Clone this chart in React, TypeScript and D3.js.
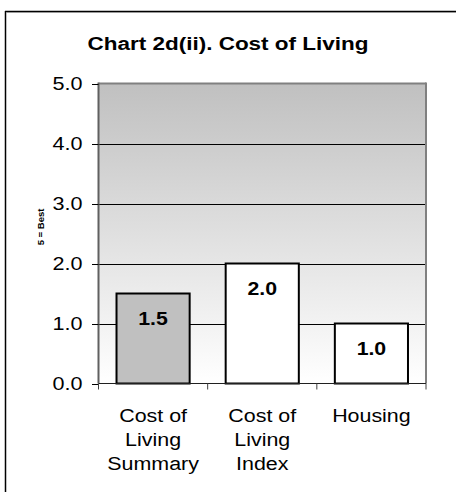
import React from "react";
import * as d3 from "d3";

const categories = [["Cost of", "Living", "Summary"], ["Cost of", "Living", "Index"], ["Housing"]];
const values = [1.5, 2.0, 1.0];
const barFills = ["#c0c0c0", "#ffffff", "#ffffff"];
const yTicks = [0, 1, 2, 3, 4, 5];
const title = "Chart 2d(ii). Cost of Living";
const yLabel = "5 = Best";

type TProps = { x: number; y: number; sx?: number; size: number; bold?: boolean; anchor?: string; children: React.ReactNode };
function T({ x, y, sx = 1.2, size, bold, anchor = "middle", children }: TProps) {
  return (
    <text transform={`translate(${x},${y}) scale(${sx},1)`} textAnchor={anchor} fontSize={size} fontWeight={bold ? "bold" : "normal"} fill="#000">
      {children}
    </text>
  );
}

export default function App() {
  const W = 456, H = 492;
  const left = 98.5, right = 426, top = 83.5, bottom = 383.5;
  const y = d3.scaleLinear().domain([0, 5]).range([bottom, top]);
  const x = d3.scaleBand<number>().domain(d3.range(categories.length)).range([left, right]).paddingInner(0.33).paddingOuter(0.165);
  const band = (right - left) / categories.length;
  const font = "Liberation Sans, Arial, sans-serif";
  return (
    <svg width={W} height={H} style={{ position: "absolute", left: 0, top: 0 }} fontFamily={font}>
      <defs>
        <linearGradient id="bg" x1="0" y1="0" x2="0" y2="1">
          <stop offset="0" stopColor="#c0c0c0" />
          <stop offset="1" stopColor="#ffffff" />
        </linearGradient>
      </defs>
      <rect x={0} y={0} width={W} height={H} fill="#fff" />
      <line x1={5.5} y1={11} x2={5.5} y2={H} stroke="#000" strokeWidth={1.5} />
      <line x1={5} y1={11.5} x2={W} y2={11.5} stroke="#000" strokeWidth={1.5} />
      <line x1={6.5} y1={12.5} x2={W} y2={12.5} stroke="#999" strokeWidth={1} />
      <T x={228} y={50} size={18} sx={1.25} bold>{title}</T>
      <rect x={left} y={top} width={right - left} height={bottom - top} fill="url(#bg)" />
      {yTicks.filter(t => t > 0 && t < 5).map(t => (
        <line key={t} x1={left} x2={right} y1={Math.round(y(t)) + 0.5} y2={Math.round(y(t)) + 0.5} stroke="#000" strokeWidth={1} />
      ))}
      <line x1={left} x2={right} y1={top} y2={top} stroke="#808080" strokeWidth={2} />
      <line x1={right} x2={right} y1={top - 1} y2={bottom} stroke="#808080" strokeWidth={2} />
      {values.map((v, i) => (
        <g key={i}>
          <rect x={x(i)!} y={y(v)} width={x.bandwidth()} height={bottom - y(v)} fill={barFills[i]} stroke="#000" strokeWidth={2} />
          <T x={x(i)! + x.bandwidth() / 2} y={y(v) + 31.5} size={19} sx={1.12} bold>{v.toFixed(1)}</T>
        </g>
      ))}
      <line x1={left} x2={left} y1={top - 1} y2={bottom} stroke="#606060" strokeWidth={2} />
      <line x1={left} x2={right} y1={bottom} y2={bottom} stroke="#202020" strokeWidth={1.2} />
      {yTicks.map(t => (
        <g key={t}>
          <line x1={92} x2={left} y1={Math.round(y(t)) + 0.5} y2={Math.round(y(t)) + 0.5} stroke="#000" />
          <T x={82.5} y={y(t) + 6.5} size={18} sx={1.2} anchor="end">{t.toFixed(1)}</T>
        </g>
      ))}
      {d3.range(categories.length + 1).map(i => (
        <line key={i} x1={left + i * band} x2={left + i * band} y1={bottom} y2={bottom + 6} stroke="#404040" />
      ))}
      {categories.map((lines, i) => (
        <g key={i}>
          {lines.map((l, j) => (
            <T key={j} x={x(i)! + x.bandwidth() / 2} y={422 + j * 24} size={18} sx={1.19}>{l}</T>
          ))}
        </g>
      ))}
      <text transform={`translate(44,227) rotate(-90)`} textAnchor="middle" fontSize={9.5} fontWeight="bold">{yLabel}</text>
    </svg>
  );
}
